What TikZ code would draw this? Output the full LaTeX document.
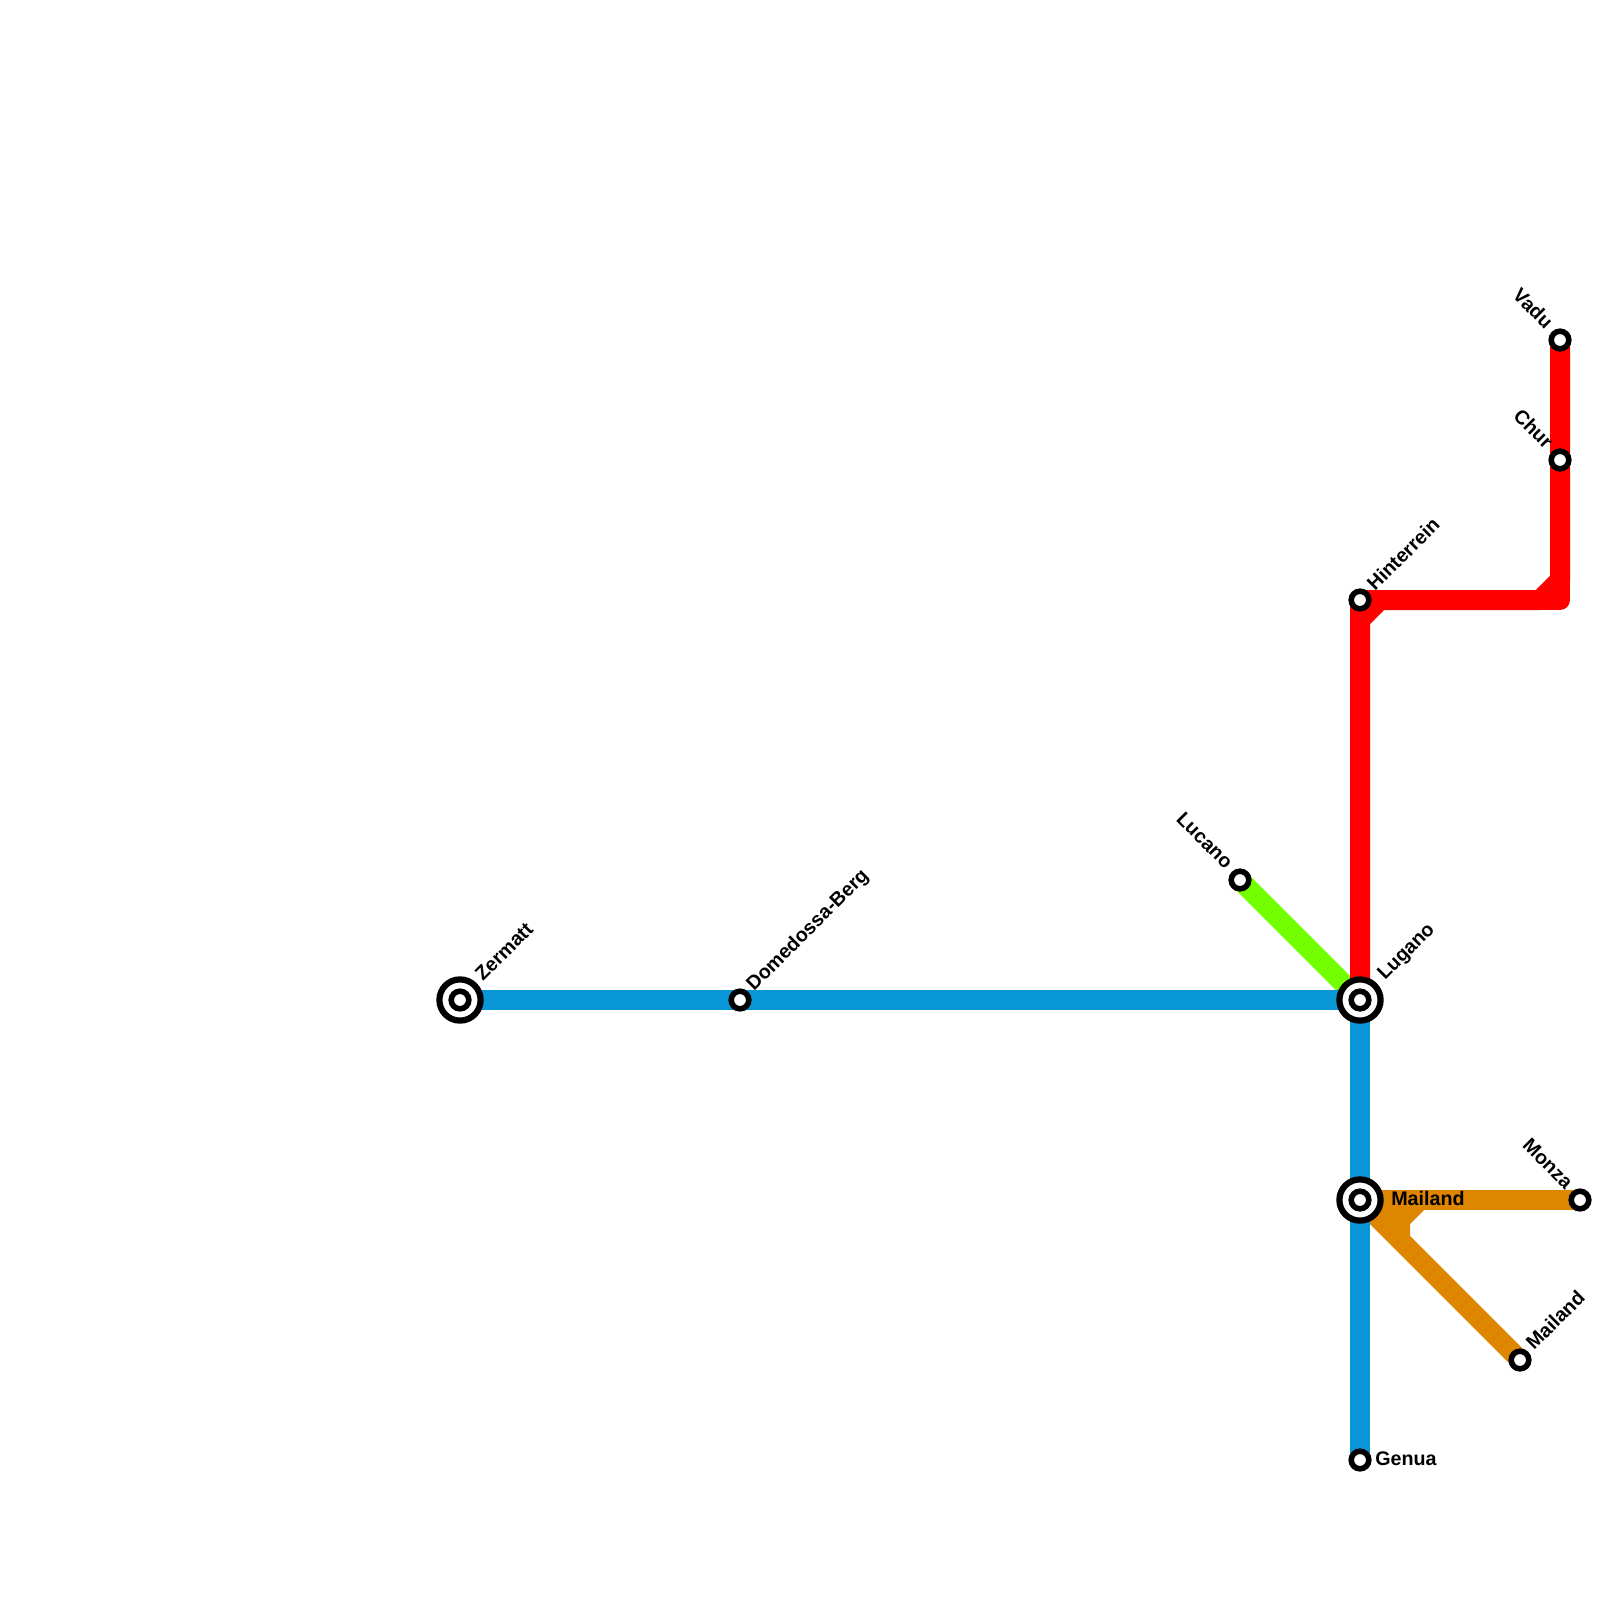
\documentclass[tikz,border=0pt]{standalone}
\usepackage{fontspec}
\setmainfont{Liberation Sans}
\usetikzlibrary{backgrounds}
\definecolor{lineblue}{HTML}{0896D7}
\definecolor{linered}{HTML}{FF0000}
\definecolor{linegreen}{HTML}{73FF00}
\definecolor{lineorange}{HTML}{DF8600}
\tikzset{
    station/.style={circle, draw=black, fill=white, line width=0.14cm, inner sep=0, outer sep=0, minimum size=0.44cm},
    hub/.style={circle, draw=black, fill=white, line width=0.155cm, inner sep=0, outer sep=0, minimum size=1.03cm},
    stationlabel/.style={inner sep=0, font=\fontsize{14}{16}\selectfont\bfseries},
    upright/.style={stationlabel, rotate=45, anchor=base west},
    upleft/.style={stationlabel, rotate=-45, anchor=base east},
    metro/.style={line width=0.5cm, line join=round}
}
\begin{document}
\begin{tikzpicture}[x=0.025cm, y=-0.025cm]
    \useasboundingbox (0, 0) rectangle (1600, 1600);

    % Stations
    \node[hub] (zermatt) at (460, 1000) {};
    \node[station] (zermattin) at (zermatt) {};
    \node[station] (domedossa) at (740, 1000) {};
    \node[hub] (lugano) at (1360, 1000) {};
    \node[station] (luganoin) at (lugano) {};
    \node[station] (lucano) at (1240, 880) {};
    \node[hub] (mailand) at (1360, 1200) {};
    \node[station] (mailandin) at (mailand) {};
    \node[station] (genua) at (1360, 1460) {};
    \node[station] (monza) at (1580, 1200) {};
    \node[station] (mailandsued) at (1520, 1360) {};
    \node[station] (hinterrein) at (1360, 600) {};
    \node[station] (chur) at (1560, 460) {};
    \node[station] (vadu) at (1560, 340) {};

    % Bends
    \coordinate (redlow) at (1360, 620);
    \coordinate (redleft) at (1380, 600);
    \coordinate (redright) at (1540, 600);
    \coordinate (redup) at (1560, 580);
    \coordinate (redcorner) at (1560, 600);
    \coordinate (orangeright) at (1420, 1200);
    \coordinate (orangemid) at (1400, 1220);
    \coordinate (orangelow) at (1400, 1240);
    \coordinate (orangeleft) at (1380, 1220);

    % Lines
    \begin{scope}[on background layer]
        \draw[metro, linegreen] (lucano.center) -- (lugano.center);
        \draw[metro, linered] (lugano.center) -- (redlow) -- (redleft) -- (redright) -- (redup) -- (vadu.center);
        \draw[metro, linered] (hinterrein.center) -- (redcorner) -- (chur.center);
        \draw[metro, linered] (hinterrein.center) -- (redlow);
        \draw[metro, lineorange] (mailand.center) -- (monza.center);
        \draw[metro, lineorange] (mailand.center) -- (mailandsued.center);
        \draw[metro, lineorange] (orangeright) -- (orangemid) -- (orangelow);
        \draw[metro, lineorange] (orangeleft) -- (orangemid);
        \draw[metro, lineblue] (zermatt.center) -- (lugano.center) -- (genua.center);
    \end{scope}

    % Labels
    \node[upright] (zermattlabel) at (483, 982) {Zermatt};
    \node[upright] (domedossalabel) at (754, 992) {Domedossa-Berg};
    \node[upright] (luganolabel) at (1385, 981) {Lugano};
    \node[upright] (hinterreinlabel) at (1375, 592) {Hinterrein};
    \node[upright] (mailandsuedlabel) at (1534, 1351) {Mailand};
    \node[upleft] (lucanolabel) at (1225, 870) {Lucano};
    \node[upleft] (vadulabel) at (1545, 330) {Vadu};
    \node[upleft] (churlabel) at (1545, 450) {Chur};
    \node[upleft] (monzalabel) at (1565, 1190) {Monza};
    \node[stationlabel, anchor=base west] (mailandlabel) at (1391, 1205) {Mailand};
    \node[stationlabel, anchor=base west] (genualabel) at (1375, 1465) {Genua};
\end{tikzpicture}
\end{document}
